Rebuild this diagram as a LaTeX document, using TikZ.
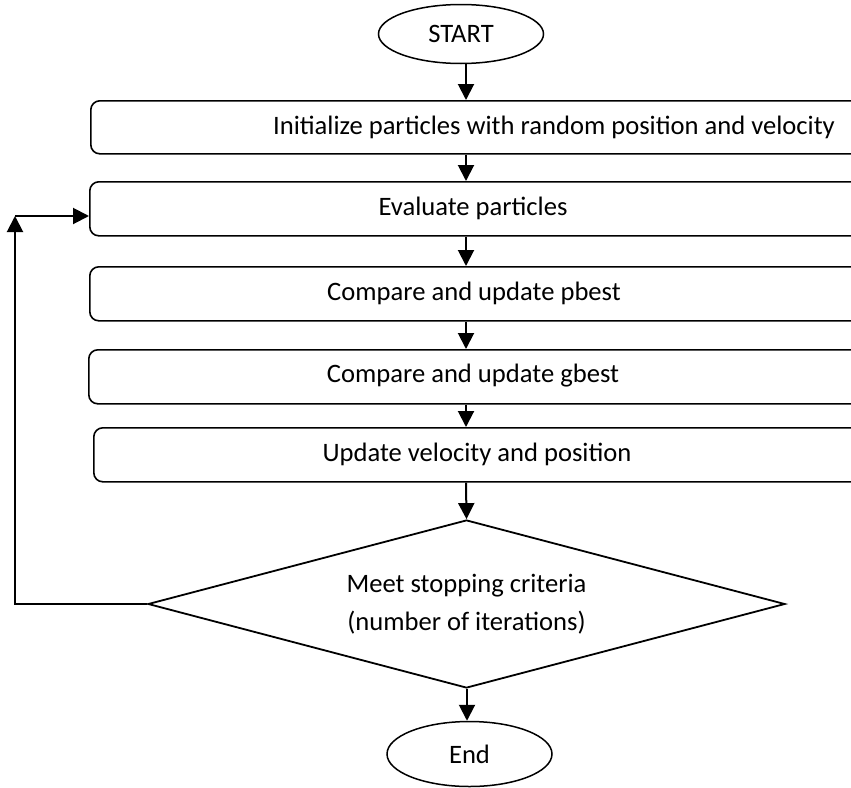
\documentclass[tikz,border=0pt]{standalone}
\usepackage{fontspec}
\setmainfont{Carlito}
\usetikzlibrary{shapes.geometric,arrows.meta}
\begin{document}
\begin{tikzpicture}[x=1pt,y=-1pt,
  procbox/.style={draw,line width=1.6pt,rounded corners=9pt,minimum width=820pt,inner sep=0pt,anchor=north west},
  txt/.style={font=\fontsize{26.6}{38}\selectfont,inner sep=0pt,align=center},
  term/.style={draw,ellipse,line width=1.5pt,inner sep=0pt,minimum width=165pt,font=\fontsize{26.6}{38}\selectfont},
  arr/.style={line width=2pt,-{Triangle[width=16pt,length=16pt]}}
]
\useasboundingbox (0,0) rectangle (851,787);
\clip (0,0) rectangle (851,787);
\coordinate (col) at (466,0);
\coordinate (colb) at (467,0);

\node[term,minimum height=59pt] (s) at (461,34) {START};

\node[procbox,minimum height=53pt] (b1) at (90,100) {};
\node[procbox,minimum height=54pt] (b2) at (89,181) {};
\node[procbox,minimum height=54pt] (b3) at (89,266) {};
\node[procbox,minimum height=54pt] (b4) at (88,349) {};
\node[procbox,minimum height=54pt] (b5) at (93,427) {};

\node[txt] (t1) at (554,127) {Initialize particles with random position and velocity};
\node[txt] (t2) at (473,208) {Evaluate particles};
\node[txt] (t3) at (474,293) {Compare and update pbest};
\node[txt] (t4) at (473,376) {Compare and update gbest};
\node[txt] (t5) at (477,454) {Update velocity and position};

\node[draw,diamond,line width=1.8pt,inner sep=0pt,minimum width=637pt,minimum height=168pt] (d) at (466.5,604) {};
\node[txt] (dt) at (466.5,604) {Meet stopping criteria\\(number of iterations)};

\node[term,minimum height=65pt] (e) at (469.5,754) {End};

\draw[arr] (col |- s.south) -- (col |- b1.north);
\draw[arr] (col |- b1.south) -- (col |- b2.north);
\draw[arr] (col |- b2.south) -- (col |- b3.north);
\draw[arr] (col |- b3.south) -- (col |- b4.north);
\draw[arr] (col |- b4.south) -- (col |- b5.north);
\draw[arr] (col |- b5.south) -- (d.north);
\draw[arr] (colb |- d.south) -- (colb |- e.north);

\coordinate (lp) at (15,216);
\draw[arr] (d.west) -| (lp);
\draw[arr] (lp) -- (lp -| b2.west);
\end{tikzpicture}
\end{document}
